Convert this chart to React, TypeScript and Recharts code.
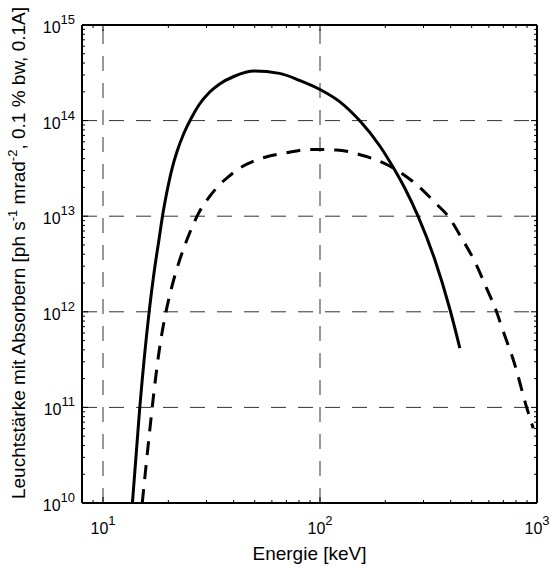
import { LineChart, Line, XAxis, YAxis, ReferenceLine } from 'recharts';

const FONT = '"Liberation Sans", Arial, Helvetica, sans-serif';

// Solid curve (keV / flux)
const solidEnergy = [13.66, 14.77, 16.31, 17.2, 18.14, 18.79, 19.82, 20.83, 21.97, 23.67, 25.49, 27.76, 30.87, 34.34, 40.29, 49.83, 65.0, 80.4, 99.5, 123.1, 152.2, 188.3, 216.9, 245.7, 282.9, 338.0, 396.5, 441.0];
const solidFlux = [1e10, 1e11, 1e12, 2.61e12, 5.84e12, 1e13, 1.925e13, 3.19e13, 4.81e13, 7.51e13, 1.06e14, 1.474e14, 1.967e14, 2.4e14, 2.91e14, 3.3e14, 3.12e14, 2.64e14, 2.13e14, 1.58e14, 1e14, 5.46e13, 3.27e13, 1.97e13, 1e13, 3.52e12, 1.07e12, 4.18e11];

// Dashed curve
const dashedEnergy = [15.16, 16.31, 17.2, 18.14, 19.13, 20.17, 21.28, 22.44, 24.96, 27.76, 30.87, 34.34, 38.19, 42.47, 49.83, 58.45, 72.3, 89.4, 118.8, 160.5, 209.4, 268.3, 344.1, 389.3, 449, 517.1, 586, 651.3, 687, 791, 896, 961];
const dashedFlux = [1e10, 4.99e10, 1.506e11, 3.89e11, 8.01e11, 1.411e12, 2.257e12, 3.36e12, 6.51e12, 1.107e13, 1.588e13, 2.12e13, 2.634e13, 3.16e13, 3.79e13, 4.26e13, 4.66e13, 4.99e13, 4.93e13, 4.26e13, 3.35e13, 2.3e13, 1.342e13, 1e13, 5.92e12, 3.34e12, 1.76e12, 1e12, 6.98e11, 2.78e11, 1e11, 6.04e10];

const xTicks = [8, 9, 10, 20, 30, 40, 50, 60, 70, 80, 90, 100, 200, 300, 400, 500, 600, 700, 800, 900, 1000];
const yTicks = [
  1e10, 2e10, 3e10, 4e10, 5e10, 6e10, 7e10, 8e10, 9e10,
  1e11, 2e11, 3e11, 4e11, 5e11, 6e11, 7e11, 8e11, 9e11,
  1e12, 2e12, 3e12, 4e12, 5e12, 6e12, 7e12, 8e12, 9e12,
  1e13, 2e13, 3e13, 4e13, 5e13, 6e13, 7e13, 8e13, 9e13,
  1e14, 2e14, 3e14, 4e14, 5e14, 6e14, 7e14, 8e14, 9e14,
  1e15,
];
const xGrid = [10, 100];
const yGrid = [1e11, 1e12, 1e13, 1e14];

const solidData = solidEnergy.map((e, i) => ({ energy: e, flux: solidFlux[i] }));
const dashedData = dashedEnergy.map((e, i) => ({ energy: e, flux: dashedFlux[i] }));

const isMajor = (v: number) => Math.abs(Math.log10(v) - Math.round(Math.log10(v))) < 1e-6;
const expOf = (v: number) => Math.round(Math.log10(v));

function XTick(props: any) {
  const { x, y, payload, side } = props;
  const v = payload.value;
  const major = isMajor(v);
  const len = major ? 6 : 3;
  const dir = side === 'bottom' ? -1 : 1;
  return (
    <g>
      <line x1={x} x2={x} y1={y} y2={y + dir * len} stroke="#000" strokeWidth={1} />
      {side === 'bottom' && major && (
        <text x={x} y={y + 31} textAnchor="middle" fontSize={16} fill="#000" fontFamily={FONT}>
          10
          <tspan dy={-9} fontSize={13}>
            {expOf(v)}
          </tspan>
        </text>
      )}
    </g>
  );
}

function YTick(props: any) {
  const { x, y, payload, side } = props;
  const v = payload.value;
  const major = isMajor(v);
  const len = major ? 6 : 3;
  const dir = side === 'left' ? 1 : -1;
  return (
    <g>
      <line x1={x} x2={x + dir * len} y1={y} y2={y} stroke="#000" strokeWidth={1} />
      {side === 'left' && major && (
        <text x={x - 7} y={y + 8} textAnchor="end" fontSize={16} fill="#000" fontFamily={FONT}>
          10
          <tspan dy={-9} fontSize={13}>
            {expOf(v)}
          </tspan>
        </text>
      )}
    </g>
  );
}

function XLabel(props: any) {
  const { viewBox } = props;
  const cx = viewBox.x + viewBox.width / 2;
  return (
    <text x={cx} y={560} textAnchor="middle" fontSize={19} fill="#000" fontFamily={FONT}>
      Energie [keV]
    </text>
  );
}

function YLabel() {
  const cy = 253;
  const bx = 25;
  return (
    <text
      x={bx}
      y={cy}
      transform={`rotate(-90, ${bx}, ${cy})`}
      textAnchor="middle"
      fontSize={19}
      fill="#000"
      fontFamily={FONT}
    >
      Leuchtstärke mit Absorbern [ph s
      <tspan dy={-8} fontSize={13}>-1</tspan>
      <tspan dy={8}> mrad</tspan>
      <tspan dy={-8} fontSize={13}>-2</tspan>
      <tspan dy={8}>, 0.1 % bw, 0.1A]</tspan>
    </text>
  );
}

const frame = { stroke: '#000', strokeWidth: 2 };

export default function App() {
  return (
    <div style={{ position: 'absolute', left: 0, top: 0, width: 550, height: 567, background: '#fff' }}>
      <LineChart
        width={550}
        height={567}
        margin={{ top: 24, right: 12, bottom: 0, left: 0 }}
        style={{ fontFamily: FONT }}
      >
        <XAxis
          xAxisId="b"
          orientation="bottom"
          type="number"
          dataKey="energy"
          scale="log"
          domain={[8, 1000]}
          allowDataOverflow
          ticks={xTicks}
          interval={0}
          height={64}
          tickSize={0}
          tickMargin={0}
          tickLine={false}
          stroke="#000"
          axisLine={frame}
          tick={<XTick side="bottom" />}
          label={<XLabel />}
        />
        <XAxis
          xAxisId="t"
          orientation="top"
          type="number"
          dataKey="energy"
          scale="log"
          domain={[8, 1000]}
          allowDataOverflow
          ticks={xTicks}
          interval={0}
          height={1}
          tickSize={0}
          tickMargin={0}
          tickLine={false}
          stroke="#000"
          axisLine={frame}
          tick={<XTick side="top" />}
        />
        <YAxis
          yAxisId="l"
          orientation="left"
          type="number"
          scale="log"
          domain={[1e10, 1e15]}
          allowDataOverflow
          ticks={yTicks}
          interval={0}
          width={82}
          tickSize={0}
          tickMargin={0}
          tickLine={false}
          stroke="#000"
          axisLine={frame}
          tick={<YTick side="left" />}
          label={<YLabel />}
        />
        <YAxis
          yAxisId="r"
          orientation="right"
          type="number"
          scale="log"
          domain={[1e10, 1e15]}
          allowDataOverflow
          ticks={yTicks}
          interval={0}
          width={1}
          tickSize={0}
          tickMargin={0}
          tickLine={false}
          stroke="#000"
          axisLine={frame}
          tick={<YTick side="right" />}
        />
        {xGrid.map((g) => (
          <ReferenceLine key={`gx${g}`} xAxisId="b" yAxisId="l" x={g} stroke="#333" strokeWidth={1} strokeDasharray="15 12" />
        ))}
        {yGrid.map((g) => (
          <ReferenceLine key={`gy${g}`} xAxisId="b" yAxisId="l" y={g} stroke="#333" strokeWidth={1} strokeDasharray="15 12" />
        ))}
        <Line
          xAxisId="b"
          yAxisId="l"
          data={solidData}
          dataKey="flux"
          type="monotone"
          stroke="#000"
          strokeWidth={3}
          dot={false}
          activeDot={false}
          isAnimationActive={false}
        />
        <Line
          xAxisId="b"
          yAxisId="l"
          data={dashedData}
          dataKey="flux"
          type="monotone"
          stroke="#000"
          strokeWidth={3}
          strokeDasharray="14 10"
          dot={false}
          activeDot={false}
          isAnimationActive={false}
        />
      </LineChart>
    </div>
  );
}
